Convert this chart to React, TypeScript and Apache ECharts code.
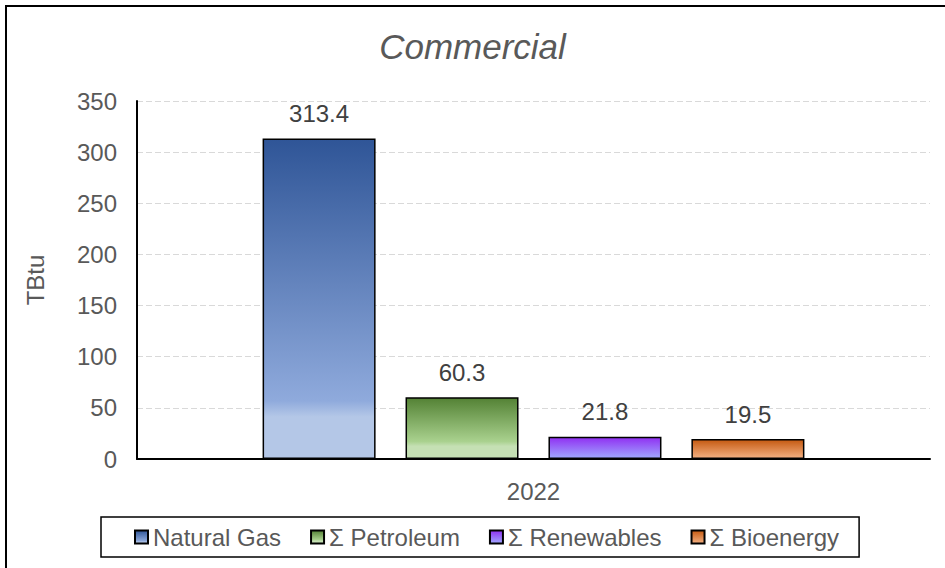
import React, { useEffect, useRef } from "react";
import * as echarts from "echarts";

// Commercial sector energy consumption, 2022 (TBtu)
const categories = ["2022"];
const seriesNames = ["Natural Gas", "Σ Petroleum", "Σ Renewables", "Σ Bioenergy"];
const naturalGas = [313.4];
const petroleum = [60.3];
const renewables = [21.8];
const bioenergy = [19.5];
const yTicks = { min: 0, max: 350, interval: 50 };

const FONT = "'Liberation Sans', Arial, sans-serif";
const TEXT = "#595959";
const SIZE = 24;

// Vertical gradient fills, top colour first
const fills: [number, string][][] = [
  [
    [0, "#2F5597"],
    [0.82, "#8FAADC"],
    [0.87, "#B4C7E7"],
    [1, "#B4C7E7"],
  ],
  [
    [0, "#548235"],
    [0.72, "#A9D18E"],
    [0.8, "#C5E0B4"],
    [1, "#C5E0B4"],
  ],
  [
    [0, "#9030F2"],
    [1, "#A0A8FF"],
  ],
  [
    [0, "#C55A11"],
    [1, "#F4B183"],
  ],
];

function gradient(stops: [number, string][]) {
  return new echarts.graphic.LinearGradient(
    0,
    0,
    0,
    1,
    stops.map(([offset, color]) => ({ offset, color }))
  );
}

export default function App() {
  const ref = useRef<HTMLDivElement>(null);

  useEffect(() => {
    if (!ref.current) return;
    const chart = echarts.init(ref.current, undefined, { renderer: "svg" });
    const values = [naturalGas, petroleum, renewables, bioenergy];

    chart.setOption({
      animation: false,
      backgroundColor: "#fff",
      textStyle: { fontFamily: FONT },
      title: {
        text: "Commercial",
        left: "center",
        top: 29,
        padding: 0,
        textStyle: {
          fontFamily: FONT,
          fontSize: 35,
          fontStyle: "italic",
          fontWeight: "normal",
          color: TEXT,
        },
      },
      graphic: [
        {
          type: "rect",
          shape: { x: 6, y: 6, width: 945, height: 568 },
          style: { fill: "none", stroke: "#000", lineWidth: 2 },
          silent: true,
        },
      ],
      legend: {
        left: 101,
        top: 517,
        padding: [8, 20, 8, 33],
        itemWidth: 13,
        itemHeight: 13,
        itemGap: 29,
        icon: "rect",
        borderColor: "#000",
        borderWidth: 1.5,
        textStyle: { fontFamily: FONT, fontSize: SIZE, color: TEXT },
        data: seriesNames,
      },
      grid: { left: 137, right: 15, top: 101, bottom: 109 },
      xAxis: {
        type: "category",
        data: categories,
        axisLine: { lineStyle: { color: "#000", width: 2 } },
        axisTick: { show: false },
        axisLabel: { fontFamily: FONT, fontSize: SIZE, color: TEXT, margin: 20 },
      },
      yAxis: {
        type: "value",
        min: yTicks.min,
        max: yTicks.max,
        interval: yTicks.interval,
        name: "TBtu",
        nameLocation: "middle",
        nameGap: 90,
        nameTextStyle: { fontFamily: FONT, fontSize: SIZE, color: TEXT },
        axisLine: { show: true, lineStyle: { color: "#000", width: 2 } },
        axisTick: { show: false },
        axisLabel: { fontFamily: FONT, fontSize: SIZE, color: TEXT, margin: 20 },
        splitLine: { lineStyle: { color: "#D9D9D9", type: [6, 3], width: 1 } },
      },
      series: seriesNames.map((name, i) => ({
        name,
        type: "bar",
        data: values[i],
        barWidth: 113,
        barGap: "26.5%",
        itemStyle: {
          color: gradient(fills[i]),
          borderColor: "#000",
          borderWidth: 1.5,
        },
        label: {
          show: true,
          position: "top",
          distance: 13,
          fontFamily: FONT,
          fontSize: SIZE,
          color: "#404040",
          formatter: (p: any) => Number(p.value).toFixed(1),
        },
      })),
    });

    return () => chart.dispose();
  }, []);

  return (
    <div
      ref={ref}
      style={{ position: "absolute", left: 0, top: 0, width: 945, height: 568 }}
    />
  );
}
